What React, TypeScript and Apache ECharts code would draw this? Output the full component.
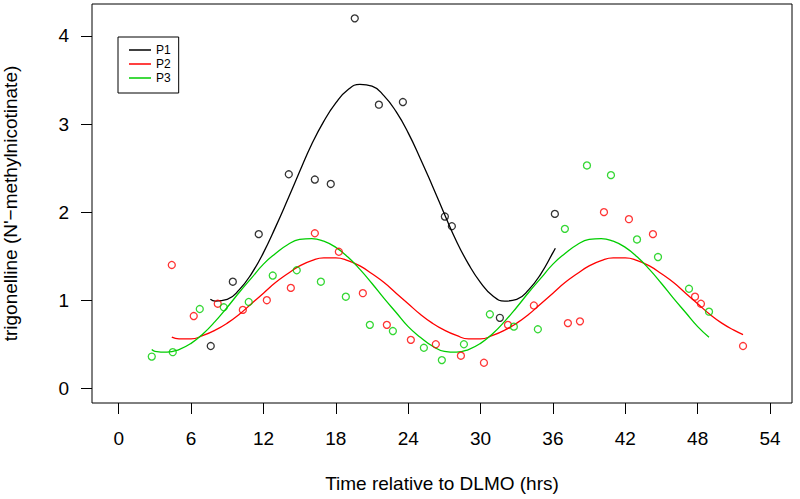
import React, { useEffect, useRef } from "react";
import * as echarts from "echarts";

// Observed points
const p1X = [7.63, 9.46, 11.61, 14.1, 16.26, 17.58, 19.57, 21.57, 23.56, 27.04, 27.62, 31.6, 36.16];
const p1Y = [0.48, 1.21, 1.75, 2.43, 2.37, 2.32, 4.2, 3.22, 3.25, 1.95, 1.84, 0.8, 1.98];

const p2X = [4.4, 6.22, 8.21, 10.29, 12.28, 14.27, 16.26, 18.25, 20.24, 22.23, 24.22, 26.29, 28.37, 30.28, 32.27, 34.42, 37.24, 38.24, 40.23, 42.3, 44.29, 47.78, 48.27, 51.76];
const p2Y = [1.4, 0.82, 0.96, 0.89, 1.0, 1.14, 1.76, 1.55, 1.08, 0.72, 0.55, 0.5, 0.37, 0.29, 0.72, 0.94, 0.74, 0.76, 2.0, 1.92, 1.75, 1.04, 0.96, 0.48];

const p3X = [2.74, 4.48, 6.72, 8.71, 10.78, 12.77, 14.76, 16.76, 18.83, 20.82, 22.73, 25.3, 26.79, 28.62, 30.77, 32.76, 34.75, 36.99, 38.82, 40.81, 42.97, 44.71, 47.28, 48.94];
const p3Y = [0.36, 0.41, 0.9, 0.92, 0.98, 1.28, 1.34, 1.21, 1.04, 0.72, 0.65, 0.46, 0.32, 0.5, 0.84, 0.7, 0.67, 1.81, 2.53, 2.42, 1.69, 1.49, 1.13, 0.87];

// Fitted curves
const fit1X = [7.6, 8, 9, 10, 11, 12, 13, 14, 15, 16, 17, 18, 19, 20, 21, 22, 23, 24, 25, 26, 27, 28, 29, 30, 31, 32, 33, 34, 35, 36, 36.2];
const fit1Y = [1.01, 0.99, 1.01, 1.12, 1.3, 1.54, 1.83, 2.14, 2.46, 2.77, 3.03, 3.24, 3.39, 3.45, 3.43, 3.32, 3.14, 2.9, 2.61, 2.3, 1.98, 1.67, 1.41, 1.2, 1.05, 0.99, 1.01, 1.12, 1.3, 1.54, 1.59];

const fit2X = [4.4, 5, 6, 7, 8, 9, 10, 11, 12, 13, 14, 15, 16, 17, 18, 19, 20, 21, 22, 23, 24, 25, 26, 27, 28, 29, 30, 31, 32, 33, 34, 35, 36, 37, 38, 39, 40, 41, 42, 43, 44, 45, 46, 47, 48, 49, 50, 51, 51.76];
const fit2Y = [0.58, 0.56, 0.56, 0.6, 0.66, 0.74, 0.84, 0.96, 1.08, 1.2, 1.3, 1.39, 1.45, 1.48, 1.48, 1.45, 1.39, 1.3, 1.2, 1.08, 0.96, 0.84, 0.74, 0.66, 0.6, 0.56, 0.56, 0.6, 0.66, 0.74, 0.84, 0.96, 1.08, 1.2, 1.3, 1.39, 1.45, 1.48, 1.48, 1.45, 1.39, 1.3, 1.2, 1.08, 0.96, 0.84, 0.74, 0.66, 0.61];

const fit3X = [2.74, 3, 4, 5, 6, 7, 8, 9, 10, 11, 12, 13, 14, 15, 16, 17, 18, 19, 20, 21, 22, 23, 24, 25, 26, 27, 28, 29, 30, 31, 32, 33, 34, 35, 36, 37, 38, 39, 40, 41, 42, 43, 44, 45, 46, 47, 48, 48.94];
const fit3Y = [0.44, 0.42, 0.41, 0.44, 0.51, 0.62, 0.76, 0.92, 1.09, 1.25, 1.41, 1.53, 1.63, 1.69, 1.7, 1.67, 1.6, 1.49, 1.35, 1.19, 1.02, 0.86, 0.7, 0.58, 0.48, 0.42, 0.41, 0.44, 0.51, 0.62, 0.76, 0.92, 1.09, 1.25, 1.41, 1.53, 1.63, 1.69, 1.7, 1.67, 1.6, 1.49, 1.35, 1.19, 1.02, 0.86, 0.7, 0.58];

const seriesNames = ["P1", "P2", "P3"];
const xTicks = [0, 6, 12, 18, 24, 30, 36, 42, 48, 54];
const yTicks = [0, 1, 2, 3, 4];

const COLORS = ["#000000", "#FF0000", "#00CD00"];
const FONT = "'Liberation Sans', Arial, Helvetica, sans-serif";

const zip = (xs: number[], ys: number[]) => xs.map((x, i) => [x, ys[i]]);

export default function App() {
  const ref = useRef<HTMLDivElement>(null);
  useEffect(() => {
    if (!ref.current) return;
    const chart = echarts.init(ref.current, null, { renderer: "svg" });
    const pts = [zip(p1X, p1Y), zip(p2X, p2Y), zip(p3X, p3Y)];
    const fits = [zip(fit1X, fit1Y), zip(fit2X, fit2Y), zip(fit3X, fit3Y)];
    const series: any[] = [];
    seriesNames.forEach((n, i) => {
      series.push({
        name: n,
        type: "line",
        data: fits[i],
        showSymbol: false,
        smooth: true,
        lineStyle: { color: COLORS[i], width: 1.3 },
        itemStyle: { color: COLORS[i] },
        z: 2,
      });
    });
    seriesNames.forEach((n, i) => {
      series.push({
        name: n + " obs",
        type: "scatter",
        data: pts[i],
        symbol: "circle",
        symbolSize: 7,
        itemStyle: { color: "rgba(0,0,0,0)", borderColor: COLORS[i], borderWidth: 1.3 },
        z: 3,
      });
    });
    chart.setOption({
      animation: false,
      backgroundColor: "#ffffff",
      textStyle: { fontFamily: FONT },
      grid: {
        left: 92,
        right: 8,
        top: 4,
        bottom: 96,
        containLabel: false,
        outerBoundsMode: "none",
        show: true,
        borderColor: "#000",
        borderWidth: 1,
        backgroundColor: "transparent",
      },
      legend: {
        data: seriesNames,
        orient: "vertical",
        left: 118,
        top: 37,
        icon: "rect",
        itemWidth: 22,
        itemHeight: 1.5,
        itemGap: 2,
        itemTextGap: 10,
        padding: [7, 8, 9, 11],
        borderColor: "#000",
        borderWidth: 1,
        textStyle: { fontSize: 12, lineHeight: 12, color: "#000", fontFamily: FONT },
        selectedMode: false,
      },
      xAxis: {
        type: "value",
        min: -2.215,
        max: 55.82,
        name: "Time relative to DLMO (hrs)",
        nameLocation: "middle",
        nameGap: 71,
        nameTextStyle: { fontSize: 19, color: "#000", fontFamily: FONT },
        axisLine: { show: false, onZero: false },
        splitLine: { show: false },
        axisTick: { show: true, inside: false, length: 11, customValues: xTicks, lineStyle: { color: "#000" } },
        axisLabel: { customValues: xTicks, fontSize: 19, color: "#000", margin: 26, fontFamily: FONT },
      },
      yAxis: {
        type: "value",
        min: -0.167,
        max: 4.363,
        name: "trigonelline (N'\u2212methylnicotinate)",
        nameLocation: "middle",
        nameGap: 72,
        nameRotate: 90,
        nameTextStyle: { fontSize: 19, color: "#000", fontFamily: FONT },
        axisLine: { show: false, onZero: false },
        splitLine: { show: false },
        axisTick: { show: true, inside: false, length: 11, customValues: yTicks, lineStyle: { color: "#000" } },
        axisLabel: { customValues: yTicks, fontSize: 19, color: "#000", margin: 23, fontFamily: FONT },
      },
      series,
    });
    return () => chart.dispose();
  }, []);
  return (
    <div
      ref={ref}
      style={{ position: "fixed", left: 0, top: 0, width: 800, height: 499, background: "#fff" }}
    />
  );
}
